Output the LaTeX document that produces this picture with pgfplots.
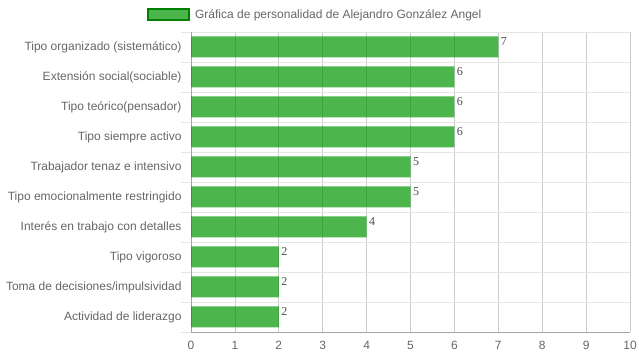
\documentclass[border=0pt]{standalone}
\usepackage{fontspec}
\setmainfont{Liberation Sans}
\newfontfamily\valfont{Liberation Serif}
\usepackage{pgfplots}
\pgfplotsset{compat=1.18}
\definecolor{txtgray}{RGB}{102,102,102}
\definecolor{barfill}{RGB}{0,150,0}
\definecolor{barborder}{RGB}{0,128,0}
\begin{document}
\begin{tikzpicture}
\useasboundingbox (0,0) rectangle (639bp,360bp);
\begin{axis}[
  at={(191bp,28bp)}, anchor=south west,
  scale only axis, width=439bp, height=300bp,
  xbar, bar width=21bp,
  xmin=0, xmax=10, ymin=-0.5, ymax=9.5,
  xtick={0,...,10},
  ytick={0,...,9},
  yticklabels={Actividad de liderazgo,Toma de decisiones/impulsividad,Tipo vigoroso,Interés en trabajo con detalles,Tipo emocionalmente restringido,Trabajador tenaz e intensivo,Tipo siempre activo,Tipo teórico(pensador),Extensión social(sociable),Tipo organizado (sistemático)},
  minor ytick={-0.5,0.5,...,9.5},
  yminorgrids=true, ymajorgrids=false, xmajorgrids=true,
  major grid style={black!20, line width=0.8bp},
  minor grid style={black!10, line width=0.8bp},
  axis lines*=left,
  axis line style={black!35, line width=0.8bp},
  major tick length=0pt, minor tick length=10bp, tick align=outside,
  minor tick style={black!10, line width=0.8bp},
  tick label style={font=\fontsize{12bp}{14bp}\selectfont, text=txtgray},
  /pgf/number format/assume math mode=true,
  yticklabel style={xshift=-6bp},
  xticklabel style={yshift=-6bp},
  nodes near coords,
  every node near coord/.append style={font=\valfont\fontsize{12bp}{14bp}\selectfont, text=black, anchor=west, yshift=5bp, xshift=-1bp},
  legend style={at={(0.283,1.057)}, anchor=center, draw=none, fill=none, font=\fontsize{12bp}{14bp}\selectfont, text=txtgray, /tikz/every even column/.append style={column sep=0pt}},
  legend image code/.code={\draw[fill=barfill, fill opacity=0.7, draw=barborder, line width=2bp] (0bp,-5.5bp) rectangle (41bp,5.5bp); \path (0bp,0bp) -- (45bp,0bp);},
]
\addplot[fill=barfill, fill opacity=0.7, draw=none] coordinates {
(2,0) (2,1) (2,2) (4,3) (5,4) (5,5) (6,6) (6,7) (6,8) (7,9)};
\addlegendentry{Gráfica de personalidad de Alejandro González Angel}
\end{axis}
\end{tikzpicture}
\end{document}
